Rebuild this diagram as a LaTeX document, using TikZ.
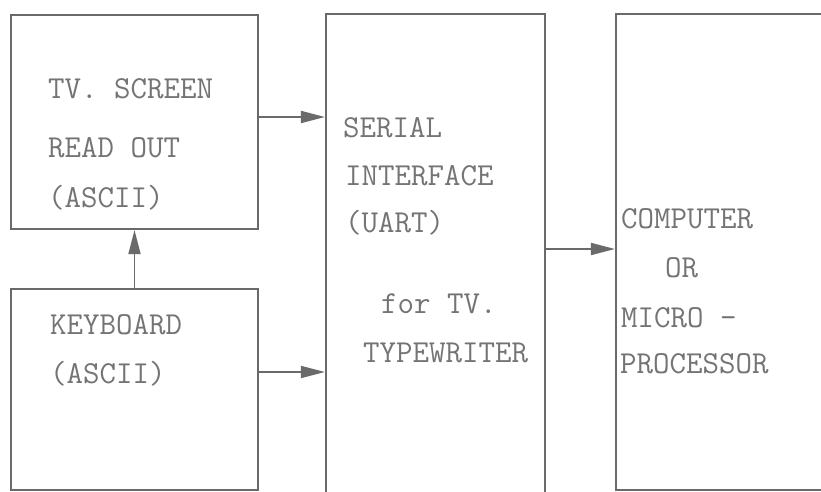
\documentclass[tikz,border=0pt]{standalone}
\usetikzlibrary{arrows.meta}
\definecolor{ink}{HTML}{6A6A6A}
\definecolor{txt}{HTML}{747474}
\begin{document}
\begin{tikzpicture}[x=1pt,y=-1pt,
  blockbox/.style={draw=ink, line width=2.2pt, inner sep=0pt, rectangle},
  lbl/.style={anchor=base west, inner sep=0pt, text=txt,
    font=\fontsize{32}{38}\selectfont\ttfamily},
  arr/.style={draw=ink, line width=1.8pt, -{Triangle[length=24pt,width=12pt]}}]
\useasboundingbox (0,0) rectangle (821,492);
\clip (0,0) rectangle (821,492);
\fill[white] (0,0) rectangle (821,492);
% blocks
\node[blockbox, minimum width=247pt, minimum height=214pt] (tv) at (134.5,122) {};
\node[blockbox, minimum width=247pt, minimum height=201pt] (kb) at (134.5,389.5) {};
\node[blockbox, minimum width=219pt, minimum height=506pt] (uart) at (435.5,267) {};
\node[blockbox, minimum width=244pt, minimum height=476pt] (comp) at (738,252) {};
% texts
\node[lbl] (t1) at (48,99) {TV. SCREEN};
\node[lbl] (t2) at (48,157) {READ OUT};
\node[lbl] (t3) at (48,207) {(ASCII)};
\node[lbl] (k1) at (50,334) {KEYBOARD};
\node[lbl] (k2) at (50,383) {(ASCII)};
\node[lbl] (u1) at (343,137) {SERIAL};
\node[lbl] (u2) at (345,185) {INTERFACE};
\node[lbl] (u3) at (345,232) {(UART)};
\node[lbl] (u4) at (381,313) {for TV.};
\node[lbl] (u5) at (363,362) {TYPEWRITER};
\node[lbl] (c1) at (621,228) {COMPUTER};
\node[lbl] (c2) at (665,277) {OR};
\node[lbl] (c3) at (621,327) {MICRO -};
\node[lbl] (c4) at (620,373) {PROCESSOR};
% connectors
\draw[arr] (kb.north) -- (tv.south);
\draw[arr] (tv.east |- 0,117) -- (uart.west |- 0,117);
\draw[arr] (kb.east |- 0,372) -- (uart.west |- 0,372);
\draw[arr] (uart.east |- 0,249) -- (comp.west |- 0,249);
\end{tikzpicture}
\end{document}
